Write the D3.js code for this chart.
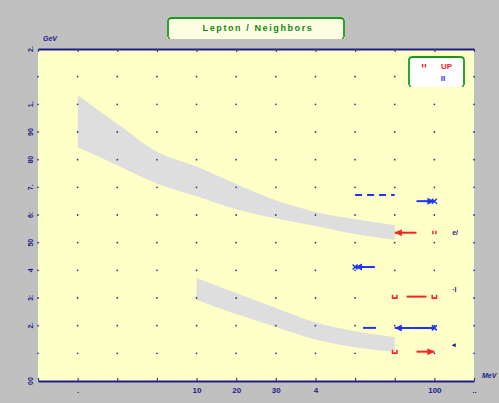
<!DOCTYPE html>
<html>
<head>
<meta charset="utf-8">
<script src="https://cdn.jsdelivr.net/npm/d3@7"></script>
<style>
  html, body { margin: 0; padding: 0; background: #c0c0c0; }
  svg { display: block; }
</style>
</head>
<body>
<script>
// ---- data ----
const xTicks = [0, 1, 2, 3, 4, 5, 6, 7, 8, 9, 10, 11];
const xTickLabels = ["", ".", "", "", "10", "20", "30", "4", "", "", "100", ".."];
const yTicks = [0, 1, 2, 3, 4, 5, 6, 7, 8, 9, 10, 11, 12];
const yTickLabels = ["00", "", "2.", "3:", "4", "50", "6:", "7.", "80", "90", "1.", "", "2."];

// shaded bands (x, upper edge, lower edge)
const upperBandX = [1, 2, 3, 4, 5, 6, 7, 8, 9];
const upperBandHi = [10.34, 9.3, 8.29, 7.75, 7.12, 6.53, 6.11, 5.85, 5.64];
const upperBandLo = [8.46, 7.8, 7.14, 6.68, 6.21, 5.88, 5.6, 5.31, 5.1];
const lowerBandX = [4, 5, 6, 7, 8, 9];
const lowerBandHi = [3.72, 3.18, 2.64, 2.12, 1.8, 1.59];
const lowerBandLo = [2.93, 2.42, 1.95, 1.5, 1.22, 1.05];

// blue segments: level, from, to, arrowhead end, dashed
const blueY = [6.72, 6.5, 4.12, 1.92, 1.92];
const blueX0 = [8.0, 9.55, 8.5, 8.2, 10.0];
const blueX1 = [9.0, 10.0, 8.0, 8.53, 9.0];
const blueHead = [false, true, true, false, true];
const blueDashed = [true, false, false, false, false];
// blue cross markers
const blueMarkX = [10.0, 8.0, 10.0];
const blueMarkY = [6.5, 4.12, 1.92];

// red segments
const redY = [5.36, 3.05, 1.06];
const redX0 = [9.55, 9.3, 9.55];
const redX1 = [9.0, 9.8, 10.0];
const redHead = [true, false, true];
// red markers: kind "q" (tick pair) or "u" (cup)
const redMarkX = [10.0, 9.0, 10.0, 9.0];
const redMarkY = [5.36, 3.05, 3.05, 1.06];
const redMarkKind = ["q", "u", "u", "u"];

// side labels
const sideLabels = ["e/", "·I", "◂"];
const sideLabelY = [5.35, 3.29, 1.3];

const titleText = "Lepton / Neighbors";
const legendLabels = ["UP", "II"];

// ---- layout ----
const W = 499, H = 403;
const plot = { left: 38, right: 474, top: 49, bottom: 381 };
const navy = "#1c1c8a", red = "#ff2020", blue = "#2233ff", green = "#1a9a1a";

const svg = d3.select("body").append("svg").attr("width", W).attr("height", H);
svg.append("rect").attr("width", W).attr("height", H).attr("fill", "#c0c0c0");

const x = d3.scaleLinear().domain([0, 11]).range([plot.left, plot.right]);
const y = d3.scaleLinear().domain([0, 12]).range([plot.bottom, plot.top]);

// plot background
svg.append("rect")
  .attr("x", plot.left).attr("y", plot.top)
  .attr("width", plot.right - plot.left).attr("height", plot.bottom - plot.top)
  .attr("fill", "#ffffc8");

// bands
function band(xs, hi, lo) {
  const pts = xs.map((v, i) => ({ x: v, hi: hi[i], lo: lo[i] }));
  const area = d3.area().curve(d3.curveCatmullRom)
    .x(d => x(d.x)).y0(d => y(d.lo)).y1(d => y(d.hi));
  svg.append("path").datum(pts).attr("d", area).attr("fill", "#dedede");
}
band(upperBandX, upperBandHi, upperBandLo);
band(lowerBandX, lowerBandHi, lowerBandLo);

// grid dots
const dots = [];
xTicks.forEach(a => yTicks.forEach(b => { if (b > 0 && b < 12) dots.push([a, b]); }));
svg.append("g").selectAll("circle").data(dots).join("circle")
  .attr("cx", d => x(d[0])).attr("cy", d => y(d[1])).attr("r", 0.9).attr("fill", "#3a3a8a");

// top and bottom axis lines with inner ticks
const xAxisB = d3.axisBottom(x).tickValues(xTicks).tickSize(0)
  .tickFormat((d, i) => xTickLabels[i]).tickPadding(6);
const gB = svg.append("g").attr("transform", `translate(0,${plot.bottom})`).call(xAxisB);
gB.select(".domain").attr("stroke", navy).attr("stroke-width", 2);
gB.selectAll("text").attr("fill", navy).attr("font-family", "Liberation Sans, Arial")
  .attr("font-weight", "bold").attr("font-size", 8);
gB.selectAll(".tick").append("line").attr("y1", 0).attr("y2", -3).attr("stroke", "#3a3a8a").attr("stroke-width", 1.2);

const gT = svg.append("g").attr("transform", `translate(0,${plot.top})`)
  .call(d3.axisTop(x).tickValues(xTicks).tickSize(0).tickFormat(""));
gT.select(".domain").attr("stroke", navy).attr("stroke-width", 2);
gT.selectAll(".tick").append("line").attr("y1", 0).attr("y2", 3).attr("stroke", "#3a3a8a").attr("stroke-width", 1.2);

// left axis labels (rotated)
svg.append("g").selectAll("text").data(yTicks).join("text")
  .attr("transform", d => `translate(31,${y(d)}) rotate(-90)`)
  .attr("text-anchor", "middle").attr("dy", "0.35em")
  .attr("fill", navy).attr("font-family", "Liberation Sans, Arial")
  .attr("font-weight", "bold").attr("font-size", 7)
  .text((d, i) => yTickLabels[i]);

// axis units
svg.append("text").attr("x", 43).attr("y", 41).text("GeV")
  .attr("fill", navy).attr("font-family", "Liberation Sans, Arial")
  .attr("font-style", "italic").attr("font-weight", "bold").attr("font-size", 7);
svg.append("text").attr("x", 482).attr("y", 378).text("MeV")
  .attr("fill", navy).attr("font-family", "Liberation Sans, Arial")
  .attr("font-style", "italic").attr("font-weight", "bold").attr("font-size", 7);

// arrowheads
function head(g, xFrom, xTo, yy, color) {
  const dir = xTo > xFrom ? 1 : -1;
  const tipX = x(xTo), cy = y(yy);
  g.append("path")
    .attr("d", `M${tipX},${cy} L${tipX - dir * 7},${cy - 3.5} L${tipX - dir * 7},${cy + 3.5} Z`)
    .attr("fill", color);
}

const gBlue = svg.append("g");
blueY.forEach((v, i) => {
  gBlue.append("line")
    .attr("x1", x(blueX0[i])).attr("x2", x(blueX1[i]))
    .attr("y1", y(v)).attr("y2", y(v))
    .attr("stroke", blue).attr("stroke-width", 2)
    .attr("stroke-dasharray", blueDashed[i] ? "7,5" : null);
  if (blueHead[i]) head(gBlue, blueX0[i], blueX1[i], v, blue);
});
blueMarkX.forEach((v, i) => {
  const cx = x(v), cy = y(blueMarkY[i]);
  gBlue.append("path")
    .attr("d", `M${cx - 2.5},${cy - 2.5} L${cx + 2.5},${cy + 2.5} M${cx - 2.5},${cy + 2.5} L${cx + 2.5},${cy - 2.5}`)
    .attr("stroke", blue).attr("stroke-width", 1.5);
});

const gRed = svg.append("g");
redY.forEach((v, i) => {
  gRed.append("line")
    .attr("x1", x(redX0[i])).attr("x2", x(redX1[i]))
    .attr("y1", y(v)).attr("y2", y(v))
    .attr("stroke", red).attr("stroke-width", 2);
  if (redHead[i]) head(gRed, redX0[i], redX1[i], v, red);
});
function redMarker(g, cx, cy, kind) {
  if (kind === "q") {
    g.append("path").attr("d", `M${cx - 1.5},${cy - 2} V${cy + 1.5} M${cx + 1.5},${cy - 2} V${cy + 1.5}`)
      .attr("stroke", red).attr("stroke-width", 1.4);
  } else {
    g.append("path").attr("d", `M${cx - 2.2},${cy - 1.8} V${cy + 1.6} H${cx + 2.2} V${cy - 1.8}`)
      .attr("fill", "none").attr("stroke", red).attr("stroke-width", 1.5);
  }
}
redMarkX.forEach((v, i) => redMarker(gRed, x(v), y(redMarkY[i]), redMarkKind[i]));

// side labels
svg.append("g").selectAll("text").data(sideLabels).join("text")
  .attr("x", x(10.45)).attr("y", (d, i) => y(sideLabelY[i]))
  .attr("dy", "0.35em").attr("fill", navy)
  .attr("font-family", "Liberation Sans, Arial").attr("font-weight", "bold").attr("font-size", 7)
  .text(d => d);

// bracket-style framed box
function framedBox(x0, y0, w, h, fill) {
  svg.append("rect").attr("x", x0).attr("y", y0).attr("width", w).attr("height", h)
    .attr("rx", 4).attr("fill", fill);
  svg.append("path")
    .attr("d", `M${x0 + 1},${y0 + h - 2} V${y0 + 4} Q${x0 + 1},${y0 + 1} ${x0 + 5},${y0 + 1} H${x0 + w - 5} Q${x0 + w - 1},${y0 + 1} ${x0 + w - 1},${y0 + 4} V${y0 + h - 2}`)
    .attr("fill", "none").attr("stroke", green).attr("stroke-width", 1.8);
  [[x0 + 2, y0 + h - 1], [x0 + w - 2, y0 + h - 1]].forEach(p =>
    svg.append("circle").attr("cx", p[0]).attr("cy", p[1]).attr("r", 1).attr("fill", green));
}

// title
framedBox(167, 17, 178, 22, "#fdfde2");
svg.append("text").attr("x", 258).attr("y", 31).attr("text-anchor", "middle")
  .attr("fill", "#118811").attr("font-family", "Liberation Sans, Arial")
  .attr("font-weight", "bold").attr("font-size", 9).attr("letter-spacing", 1.6)
  .text(titleText);

// legend
framedBox(408, 56, 57, 31, "#ffffff");
redMarker(svg, 424, 66, "q");
svg.append("text").attr("x", 441).attr("y", 66).attr("dy", "0.35em")
  .attr("fill", red).attr("font-family", "Liberation Sans, Arial")
  .attr("font-weight", "bold").attr("font-size", 8).text(legendLabels[0]);
svg.append("text").attr("x", 443).attr("y", 78).attr("dy", "0.35em")
  .attr("text-anchor", "middle")
  .attr("fill", blue).attr("font-family", "Liberation Sans, Arial")
  .attr("font-weight", "bold").attr("font-size", 8).text(legendLabels[1]);
</script>
</body>
</html>
